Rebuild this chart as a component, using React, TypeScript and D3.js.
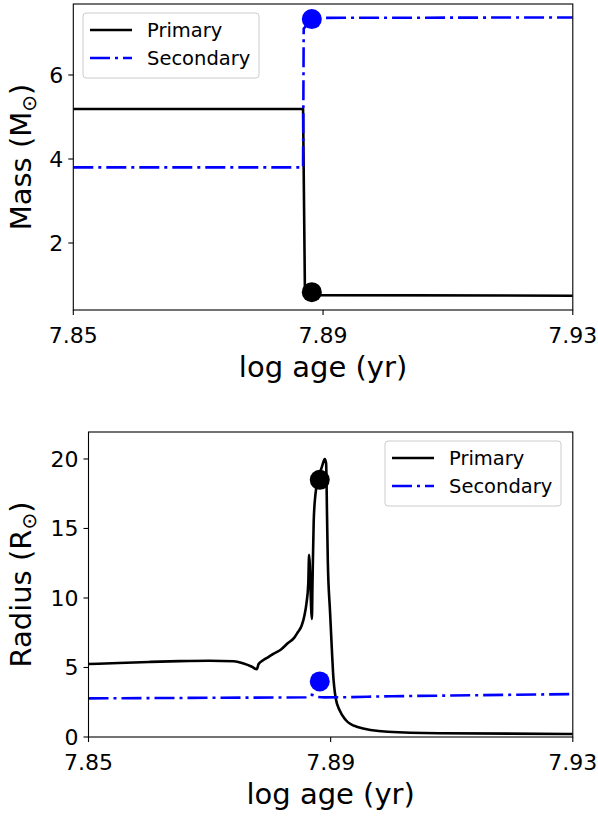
import * as d3 from 'd3';

// ---- data ----
const xTicks = [7.85, 7.89, 7.93];
const massTicks = [2, 4, 6];
const radiusTicks = [0, 5, 10, 15, 20];

const primaryMass: [number, number][] = [
  [7.85, 5.19], [7.8868, 5.19], [7.8871, 0.8], [7.8883, 0.76], [7.93, 0.745],
];
const secondaryMass: [number, number][] = [
  [7.85, 3.8], [7.8868, 3.8], [7.8869, 7.1], [7.8883, 7.36], [7.93, 7.37],
];

const primaryRadius: [number, number][] = [
  [7.85, 5.25], [7.855, 5.32], [7.86, 5.4], [7.865, 5.46], [7.87, 5.49],
  [7.874, 5.45], [7.8755, 5.3], [7.877, 5.05], [7.8778, 4.87], [7.8781, 5.25],
  [7.8789, 5.54], [7.8797, 5.75], [7.8806, 6.0], [7.8818, 6.3], [7.8829, 6.74],
  [7.884, 7.15], [7.8846, 7.55], [7.8852, 8.0], [7.8857, 8.8], [7.886, 9.6],
  [7.8863, 11.0], [7.88644, 13.1], [7.8869, 8.5], [7.887, 11.0], [7.8872, 15.5],
  [7.8875, 17.5], [7.888, 18.6], [7.8886, 19.5], [7.88903, 20.0], [7.88925, 19.7],
  [7.8894, 16.0], [7.88953, 12.7], [7.8899, 9.0], [7.8902, 6.3], [7.8904, 4.6],
  [7.89083, 2.8], [7.8915, 1.9], [7.8925, 1.22], [7.8943, 0.74], [7.8994, 0.38],
  [7.9079, 0.27], [7.93, 0.22],
];
const secondaryRadius: [number, number][] = [
  [7.85, 2.78], [7.87, 2.82], [7.886, 2.86], [7.8866, 3.05], [7.8872, 3.0],
  [7.8878, 2.88], [7.889, 2.85], [7.9, 2.93], [7.915, 3.01], [7.93, 3.09],
];

const massDots = { age: 7.8882, primary: 0.83, secondary: 7.33 };
const radiusDots = { age: 7.8882, primary: 18.5, secondary: 4.0 };

const FONT = 'DejaVu Sans, sans-serif';
const BLUE = '#0000ff';
const DASHDOT = '20,5,3,5';

type Panel = {
  left: number; right: number; top: number; bottom: number;
  yDomain: [number, number]; yTicks: number[];
  primary: [number, number][]; secondary: [number, number][];
  dots: { age: number; primary: number; secondary: number };
  yLabel: string; sub: string; yLabelX: number;
  legend: { x: number; y: number };
  smooth: boolean;
};

function PanelChart({ p }: { p: Panel }) {
  const x = d3.scaleLinear().domain([7.85, 7.93]).range([p.left, p.right]);
  const y = d3.scaleLinear().domain(p.yDomain).range([p.bottom, p.top]);
  const line = d3.line<[number, number]>()
    .x(d => x(d[0]))
    .y(d => y(d[1]))
    .curve(p.smooth ? d3.curveMonotoneX : d3.curveLinear);
  const clipId = `clip-${p.top}`;
  const cy = (p.top + p.bottom) / 2;
  const lw = 176, lh = 65;

  return (
    <g>
      <defs>
        <clipPath id={clipId}>
          <rect x={p.left} y={p.top} width={p.right - p.left} height={p.bottom - p.top} />
        </clipPath>
      </defs>
      <g clipPath={`url(#${clipId})`}>
        <path d={line(p.primary) ?? ''} fill="none" stroke="#000" strokeWidth={2.6} strokeLinejoin="round" />
        <path d={line(p.secondary) ?? ''} fill="none" stroke={BLUE} strokeWidth={2.6} strokeDasharray={DASHDOT} />
      </g>
      <circle cx={x(p.dots.age)} cy={y(p.dots.primary)} r={10} fill="#000" />
      <circle cx={x(p.dots.age)} cy={y(p.dots.secondary)} r={10} fill={BLUE} />
      <rect x={p.left} y={p.top} width={p.right - p.left} height={p.bottom - p.top}
        fill="none" stroke="#000" strokeWidth={1.1} />

      {xTicks.map(t => (
        <g key={t} transform={`translate(${x(t)},${p.bottom})`}>
          <line y2={5} stroke="#000" strokeWidth={1.1} />
          <text y={33} textAnchor="middle" fontSize={22} fontFamily={FONT}>{t.toFixed(2)}</text>
        </g>
      ))}
      <text x={(p.left + p.right) / 2} y={p.bottom + 67} textAnchor="middle" fontSize={29} fontFamily={FONT}>
        log age (yr)
      </text>

      {p.yTicks.map(t => (
        <g key={t} transform={`translate(${p.left},${y(t)})`}>
          <line x2={-5} stroke="#000" strokeWidth={1.1} />
          <text x={-10} dy="0.36em" textAnchor="end" fontSize={22} fontFamily={FONT}>{t}</text>
        </g>
      ))}
      <text transform={`translate(${p.yLabelX},${cy}) rotate(-90)`} textAnchor="middle" fontSize={29} fontFamily={FONT}>
        {p.yLabel} (<tspan>{p.sub}</tspan><tspan fontSize={20} dy={5}>⊙</tspan><tspan dy={-5}>)</tspan>
      </text>

      <g transform={`translate(${p.legend.x},${p.legend.y})`}>
        <rect width={lw} height={lh} rx={3} fill="#fff" fillOpacity={0.8} stroke="#cccccc" strokeWidth={1} />
        <line x1={7} x2={49} y1={17} y2={17} stroke="#000" strokeWidth={2.6} />
        <line x1={7} x2={49} y1={45} y2={45} stroke={BLUE} strokeWidth={2.6} strokeDasharray={DASHDOT} />
        <text x={64} y={17} dy="0.36em" fontSize={19.5} fontFamily={FONT}>Primary</text>
        <text x={64} y={45} dy="0.36em" fontSize={19.5} fontFamily={FONT}>Secondary</text>
      </g>
    </g>
  );
}

export default function App() {
  const top: Panel = {
    left: 73.3, right: 572.8, top: 4, bottom: 310,
    yDomain: [0.405, 7.69], yTicks: massTicks,
    primary: primaryMass, secondary: secondaryMass, dots: massDots,
    yLabel: 'Mass', sub: 'M', yLabelX: 31, legend: { x: 83, y: 13 }, smooth: false,
  };
  const bottom: Panel = {
    left: 88.5, right: 572.8, top: 432, bottom: 737,
    yDomain: [0, 21.94], yTicks: radiusTicks,
    primary: primaryRadius, secondary: secondaryRadius, dots: radiusDots,
    yLabel: 'Radius', sub: 'R', yLabelX: 31, legend: { x: 385, y: 441 }, smooth: true,
  };
  return (
    <svg width={598} height={818} style={{ position: 'absolute', left: 0, top: 0, background: '#fff' }}>
      <rect width={598} height={818} fill="#fff" />
      <PanelChart p={top} />
      <PanelChart p={bottom} />
    </svg>
  );
}
